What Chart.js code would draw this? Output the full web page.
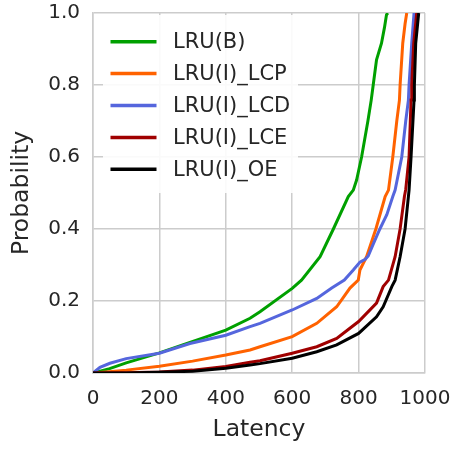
<!DOCTYPE html>
<html>
<head>
<meta charset="utf-8">
<script src="https://cdn.jsdelivr.net/npm/chart.js@4/dist/chart.umd.min.js"></script>
<style>
  html, body { margin: 0; padding: 0; background: #ffffff; }
  #wrap { width: 455px; height: 449px; }
</style>
</head>
<body>
<div id="wrap"><canvas id="c" width="455" height="449"></canvas></div>
<script>
// ---- Data ----
const seriesNames = ["LRU(B)", "LRU(I)_LCP", "LRU(I)_LCD", "LRU(I)_LCE", "LRU(I)_OE"];

const lruBLatency = [0, 50, 100, 200, 292, 400, 473, 503, 600, 628, 684, 724, 769, 784, 794, 809, 828, 838, 844, 854, 869, 878, 884, 888];
const lruBProb    = [0, 0.012, 0.028, 0.056, 0.085, 0.119, 0.152, 0.170, 0.235, 0.258, 0.323, 0.400, 0.490, 0.508, 0.536, 0.600, 0.700, 0.758, 0.800, 0.870, 0.916, 0.960, 0.995, 1.0];

const lcpLatency = [0, 30, 100, 200, 300, 400, 473, 503, 600, 674, 734, 774, 799, 804, 824, 852, 880, 890, 903, 915, 923, 925, 933, 940, 945];
const lcpProb    = [0, 0.002, 0.008, 0.019, 0.033, 0.050, 0.064, 0.073, 0.101, 0.138, 0.184, 0.236, 0.258, 0.286, 0.323, 0.400, 0.490, 0.508, 0.600, 0.700, 0.758, 0.800, 0.916, 0.970, 1.0];

const lcdLatency = [0, 21, 51, 100, 200, 292, 400, 473, 503, 600, 674, 719, 757, 784, 804, 820, 829, 845, 864, 885, 903, 910, 930, 942, 950, 952, 960, 967];
const lcdProb    = [0, 0.016, 0.027, 0.040, 0.055, 0.082, 0.105, 0.129, 0.138, 0.175, 0.207, 0.236, 0.258, 0.286, 0.308, 0.316, 0.325, 0.360, 0.400, 0.440, 0.490, 0.508, 0.600, 0.700, 0.758, 0.800, 0.916, 1.0];

const lceLatency = [0, 100, 200, 300, 400, 473, 503, 600, 674, 734, 800, 854, 874, 890, 910, 925, 938, 942, 952, 958, 960, 966, 975];
const lceProb    = [0, 0.001, 0.003, 0.008, 0.018, 0.030, 0.034, 0.055, 0.073, 0.096, 0.143, 0.194, 0.240, 0.258, 0.323, 0.400, 0.490, 0.510, 0.600, 0.758, 0.800, 0.916, 1.0];

const oeLatency = [0, 100, 200, 300, 400, 473, 503, 600, 674, 734, 800, 854, 874, 900, 910, 925, 940, 950, 952, 958, 967, 968, 972, 981];
const oeProb    = [0, 0.0, 0.002, 0.005, 0.013, 0.022, 0.026, 0.041, 0.059, 0.078, 0.110, 0.156, 0.184, 0.240, 0.258, 0.323, 0.400, 0.490, 0.508, 0.600, 0.758, 0.800, 0.916, 1.0];

const xTicks = [0, 200, 400, 600, 800, 1000];
const yTicks = [0.0, 0.2, 0.4, 0.6, 0.8, 1.0];

const seriesLatency = [lruBLatency, lcpLatency, lcdLatency, lceLatency, oeLatency];
const seriesProb = [lruBProb, lcpProb, lcdProb, lceProb, oeProb];
const seriesColors = ["#00a000", "#ff6200", "#5566dd", "#a00000", "#000000"];

// ---- Build datasets ----
const datasets = seriesNames.map((name, i) => ({
  label: name,
  data: seriesLatency[i].map((x, j) => ({ x: x, y: seriesProb[i][j] })),
  borderColor: seriesColors[i],
  backgroundColor: seriesColors[i],
  borderWidth: 3,
  pointRadius: 0,
  showLine: true,
  fill: false,
  tension: 0,
  order: seriesNames.length - i
}));

const textColor = "#262626";
const gridColor = "#cccccc";

// custom legend drawn inside the plot area (top-left)
const innerLegend = {
  id: "innerLegend",
  afterDatasetsDraw(chart) {
    const ctx = chart.ctx;
    const area = chart.chartArea;
    const bx = area.left + 10, by = area.top + 2, bw = 195, bh = 178;
    ctx.save();
    ctx.fillStyle = "rgba(255,255,255,0.9)";
    ctx.fillRect(bx, by, bw, bh);
    const rowH = 31.9;
    const firstY = area.top + 28.7;
    ctx.font = "21px 'DejaVu Sans'";
    ctx.textBaseline = "middle";
    ctx.textAlign = "left";
    chart.data.datasets.forEach((ds, i) => {
      const y = firstY + i * rowH;
      ctx.strokeStyle = ds.borderColor;
      ctx.lineWidth = 3.5;
      ctx.beginPath();
      ctx.moveTo(area.left + 17.5, y);
      ctx.lineTo(area.left + 63.5, y);
      ctx.stroke();
      ctx.fillStyle = textColor;
      ctx.fillText(ds.label, area.left + 80, y + 1);
    });
    ctx.restore();
  }
};

new Chart(document.getElementById("c"), {
  type: "scatter",
  data: { datasets: datasets },
  plugins: [innerLegend],
  options: {
    responsive: false,
    animation: false,
    devicePixelRatio: 1,
    layout: { padding: { top: 13, right: 30, left: 0, bottom: 0 } },
    plugins: {
      legend: { display: false },
      tooltip: { enabled: false }
    },
    scales: {
      x: {
        type: "linear",
        min: 0, max: 1000,
        afterBuildTicks(scale) { scale.ticks = xTicks.map(v => ({ value: v })); },
        afterFit(scale) { scale.height = 76; scale.paddingLeft = 0; scale.paddingRight = 0; },
        grid: { color: gridColor, lineWidth: 1.5, drawTicks: false },
        border: { color: gridColor, width: 1.5 },
        ticks: {
          color: textColor,
          font: { family: "'DejaVu Sans'", size: 20 },
          padding: 14,
          maxRotation: 0,
          callback: v => String(v)
        },
        title: {
          display: true,
          text: "Latency",
          color: textColor,
          font: { family: "'DejaVu Sans'", size: 23.5 },
          padding: { top: 0, bottom: 5 }
        }
      },
      y: {
        type: "linear",
        min: 0, max: 1,
        afterBuildTicks(scale) { scale.ticks = yTicks.map(v => ({ value: v })); },
        afterFit(scale) { scale.width = 93; scale.paddingTop = 0; scale.paddingBottom = 0; },
        grid: { color: gridColor, lineWidth: 1.5, drawTicks: false },
        border: { color: gridColor, width: 1.5 },
        ticks: {
          color: textColor,
          font: { family: "'DejaVu Sans'", size: 20 },
          padding: 13,
          callback: v => Number(v).toFixed(1)
        },
        title: {
          display: true,
          text: "Probability",
          color: textColor,
          font: { family: "'DejaVu Sans'", size: 23.5 },
          padding: { top: 8, bottom: 0 }
        }
      }
    }
  }
});
</script>
</body>
</html>
